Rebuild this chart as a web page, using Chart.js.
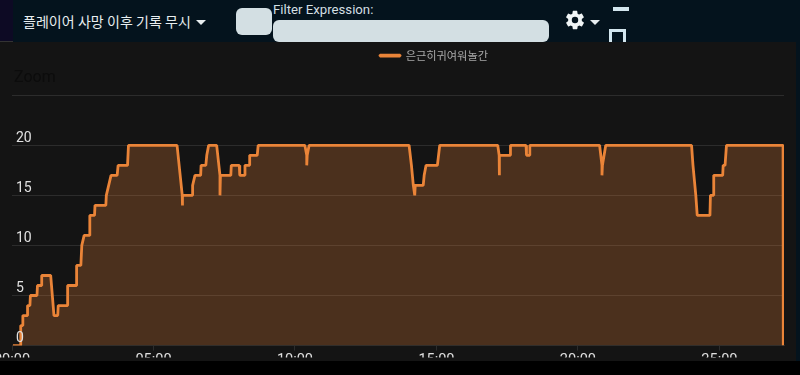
<!DOCTYPE html>
<html>
<head>
<meta charset="utf-8">
<script src="https://cdn.jsdelivr.net/npm/chart.js@4"></script>
<style>
  html, body { margin: 0; padding: 0; background: #000; overflow: hidden; }
  body { width: 800px; height: 375px; position: relative; font-family: Roboto, "Noto Sans CJK KR", sans-serif; }
  #header { position: absolute; left: 0; top: 0; width: 800px; height: 42px; background: #04131d; }
  #leftStrip { position: absolute; left: 0; top: 0; width: 13px; height: 41px; background: #0d0a24; border-bottom: 1px solid #333; }
  #title { position: absolute; left: 23px; top: 11px; color: #e8eef0; font-size: 14px; font-family: "Noto Sans CJK KR"; line-height: 20px; letter-spacing: 0.05px; }
  .caret { position: absolute; width: 0; height: 0; border-left: 5px solid transparent; border-right: 5px solid transparent; border-top: 5px solid #e8eef0; }
  #filterBox { position: absolute; left: 236px; top: 8px; width: 36px; height: 27px; background: #d3dfe3; border-radius: 6px; }
  #filterLabel { position: absolute; left: 273px; top: 1px; color: #d3dfe3; font-size: 13.2px; line-height: 17px; }
  #filterInput { position: absolute; left: 273px; top: 20px; width: 276px; height: 22px; background: #d3dfe3; border-radius: 6px; }
  #dash { position: absolute; left: 613px; top: 7px; width: 16px; height: 4px; background: #d3e6ee; }
  #box { position: absolute; left: 609px; top: 29px; width: 11px; height: 13px; border: 3px solid #d3e6ee; border-bottom: none; }
  #gear { position: absolute; left: 564px; top: 9px; width: 22px; height: 22px; }
  #chartWrap { position: absolute; left: 0; top: 42px; width: 796px; height: 319px; background: #141414; overflow: hidden; }
  #rightStrip { position: absolute; left: 796px; top: 42px; width: 4px; height: 319px; background: #04131d; }
  #zoomLabel { position: absolute; left: 14px; top: 26px; color: #0c0c0c; font-size: 16px; line-height: 18px; }
  canvas { display: block; }
</style>
</head>
<body>
<div id="header">
  <div id="leftStrip"></div>
  <div id="title">플레이어 사망 이후 기록 무시</div>
  <div class="caret" style="left:196px;top:20px"></div>
  <div id="filterBox"></div>
  <div id="filterLabel">Filter Expression:</div>
  <div id="filterInput"></div>
  <svg id="gear" viewBox="0 0 24 24"><path fill="#f0f4f5" d="M19.4 13c.04-.33.1-.66.1-1s-.06-.67-.1-1l2.1-1.65c.2-.15.25-.42.12-.64l-2-3.46c-.12-.22-.4-.3-.6-.22l-2.5 1c-.52-.4-1.08-.73-1.7-.98l-.37-2.65A.5.5 0 0 0 14 2h-4a.5.5 0 0 0-.5.42l-.37 2.65c-.62.25-1.18.58-1.7.98l-2.5-1c-.2-.08-.48 0-.6.22l-2 3.46c-.13.22-.08.49.12.64L4.6 11c-.04.33-.1.66-.1 1s.06.67.1 1l-2.1 1.65c-.2.15-.25.42-.12.64l2 3.46c.12.22.4.3.6.22l2.5-1c.52.4 1.08.73 1.7.98l.37 2.65c.04.24.25.42.5.42h4c.25 0 .46-.18.5-.42l.37-2.65c.62-.25 1.18-.58 1.7-.98l2.5 1c.2.08.48 0 .6-.22l2-3.46c.13-.22.08-.49-.12-.64L19.4 13zM12 15.5a3.5 3.5 0 1 1 0-7 3.5 3.5 0 0 1 0 7z"/></svg>
  <div class="caret" style="left:590px;top:20px"></div>
  <div id="dash"></div>
  <div id="box"></div>
</div>
<div id="chartWrap">
  <canvas id="chart" width="868" height="316" style="width:868px;height:316px"></canvas>
  <div id="zoomLabel">Zoom</div>
</div>
<div id="rightStrip"></div>
<script>
const seriesName = '은근히귀여워놀간';
// seconds since start of the match
const times = [2, 18, 18.5, 22, 23, 32, 33, 38, 39, 53, 54, 62, 63, 82, 89, 97, 98, 117, 118, 136, 137, 146, 148, 153, 154, 164, 165, 175, 176, 199, 200, 205, 210, 223, 225, 245, 247, 350, 361, 361, 362, 382, 383, 388, 400, 401, 411, 413, 417, 434, 441, 441, 442, 464, 465, 482, 483, 492, 494, 503, 504, 520, 522, 621, 625, 625, 626, 630, 842, 847, 851, 854, 855, 872, 874, 878, 902, 907, 1030, 1033, 1033, 1034, 1056, 1057, 1090, 1091, 1097, 1098, 1246, 1251, 1251, 1252, 1259, 1441, 1444, 1450, 1453, 1480, 1481, 1487, 1488, 1507, 1508, 1512, 1515, 1635, 1635.5];
const values = [0, 0, 2, 2, 3, 3, 4, 4, 5, 5, 6, 6, 7, 7, 3, 3, 4, 4, 6, 6, 8, 8, 10, 11, 11, 11, 13, 13, 14, 14, 15, 16, 17, 17, 18, 18, 20, 20, 15, 14, 15, 15, 16, 17, 17, 18, 18, 19, 20, 20, 17, 15, 17, 17, 18, 18, 17, 17, 18, 18, 19, 19, 20, 20, 19, 18, 19, 20, 20, 18, 16, 15, 16, 16, 17, 18, 18, 20, 20, 19, 17, 19, 19, 20, 20, 19, 19, 20, 20, 18, 17, 18, 20, 20, 18, 15, 13, 13, 15, 15, 17, 17, 18, 18, 20, 20, 0];
const xTicks = [0, 300, 600, 900, 1200, 1500];
const yTicks = [0, 5, 10, 15, 20, 25];
const points = times.map((t, i) => ({ x: t, y: values[i] }));

function mmss(sec) {
  const m = Math.floor(sec / 60);
  return String(m).padStart(2, '0') + ':00';
}

new Chart(document.getElementById('chart').getContext('2d'), {
  type: 'line',
  data: {
    datasets: [{
      label: seriesName,
      data: points,
      xAxisID: 'x',
      yAxisID: 'y',
      borderColor: '#ea8438',
      backgroundColor: 'rgba(238,133,55,0.25)',
      borderWidth: 2.8,
      pointRadius: 0,
      tension: 0,
      fill: 'origin',
      borderJoinStyle: 'bevel'
    }]
  },
  options: {
    responsive: false,
    animation: false,
    layout: { padding: 0 },
    plugins: {
      tooltip: { enabled: false },
      legend: {
        position: 'top',
        labels: {
          color: '#a8a8a8',
          font: { size: 11.2, family: '"Noto Sans CJK KR"' },
          boxWidth: 20,
          boxHeight: 1,
          padding: 8
        }
      }
    },
    scales: {
      x: {
        type: 'linear',
        min: 0,
        max: 1637,
        afterBuildTicks: s => { s.ticks = xTicks.map(v => ({ value: v })); },
        afterFit: s => { s.height = 12; s.paddingLeft = 0; s.paddingRight = 0; },
        grid: { color: '#2c2c2c', drawOnChartArea: false, tickLength: 5 },
        border: { color: '#2c2c2c' },
        ticks: { color: '#e0e0e0', font: { size: 14.5, family: 'Roboto' }, maxRotation: 0, padding: 1, autoSkip: false, callback: v => mmss(v) }
      },
      // empty axes, they only hold the plot away from the legend and the right side
      xTop: {
        type: 'linear',
        position: 'top',
        afterFit: s => { s.height = 24; s.paddingLeft = 0; s.paddingRight = 0; },
        grid: { display: false },
        border: { display: false },
        ticks: { display: false }
      },
      yRight: {
        type: 'linear',
        position: 'right',
        afterFit: s => { s.width = 84; },
        grid: { display: false },
        border: { display: false },
        ticks: { display: false }
      },
      y: {
        min: 0,
        max: 25,
        afterBuildTicks: s => { s.ticks = yTicks.map(v => ({ value: v })); },
        afterFit: s => { s.width = 12; },
        grid: { color: '#2c2c2c', drawTicks: false },
        border: { display: false },
        ticks: {
          mirror: true,
          z: 1,
          color: '#e0e0e0',
          font: { size: 14, family: 'Roboto' },
          padding: 4,
          labelOffset: -7,
          callback: v => (v === 25 ? '' : String(v))
        }
      }
    }
  }
});
</script>
</body>
</html>
